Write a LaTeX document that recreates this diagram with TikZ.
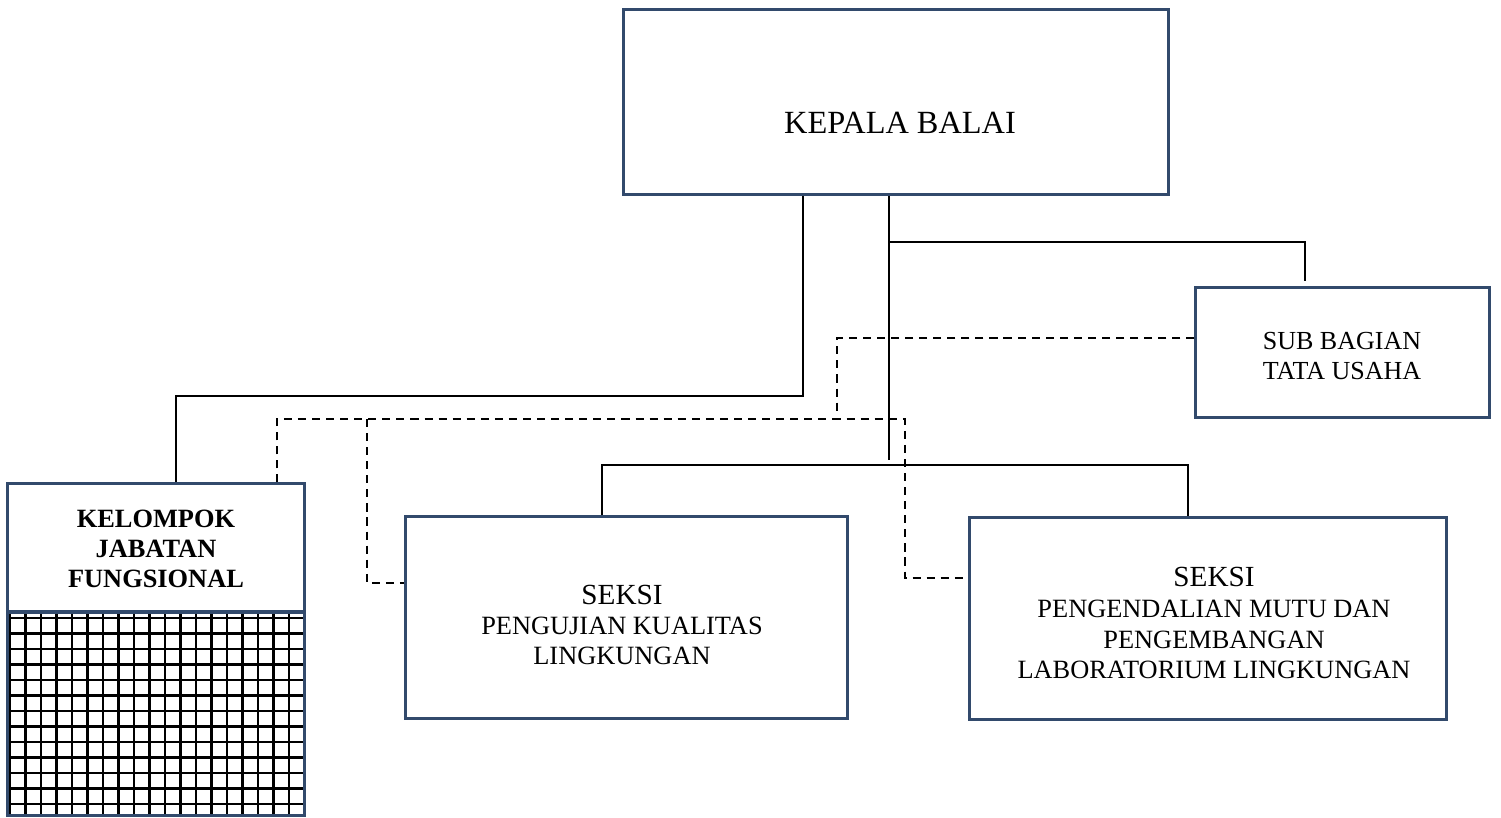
\documentclass[tikz,border=0pt]{standalone}
\usepackage{fontspec}
\setmainfont{Liberation Serif}
\definecolor{boxblue}{RGB}{50,74,108}
\begin{document}
\begin{tikzpicture}[x=0.01cm,y=-0.01cm,
  box/.style={draw=boxblue,line width=0.85pt,inner sep=0pt,fill=none},
  conn/.style={draw=black,line width=0.6pt},
  dconn/.style={draw=black,line width=0.6pt,dash pattern=on 2.3pt off 1.7pt},
  gridline/.style={draw=black,line width=0.7pt},
  lbl/.style={align=center,inner sep=0pt,text=black}]
\useasboundingbox (0,0) rectangle (1501,817);
% grid
\foreach \gx in {0,...,18} \draw[gridline] ({10+15.5*\gx},613) -- ({10+15.5*\gx},815);
\foreach \gy in {0,...,12} \draw[gridline] (8,{618+15.5*\gy}) -- (304,{618+15.5*\gy});
% boxes
\node[box,minimum width=5.44cm,minimum height=1.84cm] (kep) at (896,102) {};
\node[box,minimum width=2.93cm,minimum height=1.29cm] (sub) at (1342.5,352.5) {};
\node[box,minimum width=2.96cm,minimum height=1.27cm] (kel) at (156,547.5) {};
\node[box,minimum width=2.96cm,minimum height=2.02cm] (grd) at (156,714) {};
\node[box,minimum width=4.41cm,minimum height=2.01cm] (s1) at (626.5,617.5) {};
\node[box,minimum width=4.76cm,minimum height=2.01cm] (s2) at (1208,618.5) {};
% labels
\node[lbl,font=\fontsize{9.2}{11}\selectfont] (tkep) at (900,123) {KEPALA BALAI};
\node[lbl,font=\fontsize{7.4}{8.8}\selectfont] (tsub) at (1342,356) {SUB BAGIAN\\TATA USAHA};
\node[lbl,font=\fontsize{7.5}{8.5}\selectfont\bfseries] (tkel) at (156,549) {KELOMPOK\\JABATAN\\FUNGSIONAL};
\node[lbl,font=\fontsize{7.5}{8.6}\selectfont] (ts1) at (622,625) {{\fontsize{8.3}{9.1}\selectfont SEKSI}\\PENGUJIAN KUALITAS\\LINGKUNGAN};
\node[lbl,font=\fontsize{7.5}{8.8}\selectfont] (ts2) at (1214,623) {{\fontsize{8.3}{8.8}\selectfont SEKSI}\\PENGENDALIAN MUTU DAN\\PENGEMBANGAN\\LABORATORIUM LINGKUNGAN};
% solid connectors
\coordinate (j1) at (803,396);
\coordinate (j1b) at (176,396);
\draw[conn] (kep.south -| j1) -- (j1) -- (j1b) -- (kel.north -| j1b);
\coordinate (j2) at (889,242);
\coordinate (j2e) at (889,460);
\coordinate (j3) at (1305,242);
\coordinate (j3e) at (1305,281);
\draw[conn] (kep.south -| j2) -- (j2e);
\draw[conn] (j2) -- (j3) -- (j3e);
\coordinate (b1) at (602,465);
\coordinate (b2) at (1188,465);
\draw[conn] (s1.north -| b1) -- (b1) -- (b2) -- (s2.north -| b2);
% dashed connectors
\coordinate (d1) at (837,338);
\coordinate (d1e) at (837,415);
\draw[dconn] (sub.west |- d1) -- (d1) -- (d1e);
\coordinate (d2) at (277,419);
\coordinate (d3) at (905,419);
\coordinate (d4) at (905,578);
\draw[dconn] (kel.north -| d2) -- (d2) -- (d3) -- (d4) -- (s2.west |- d4);
\coordinate (d5) at (367,419);
\coordinate (d6) at (367,583);
\draw[dconn] (d5) -- (d6) -- (s1.west |- d6);
\end{tikzpicture}
\end{document}
